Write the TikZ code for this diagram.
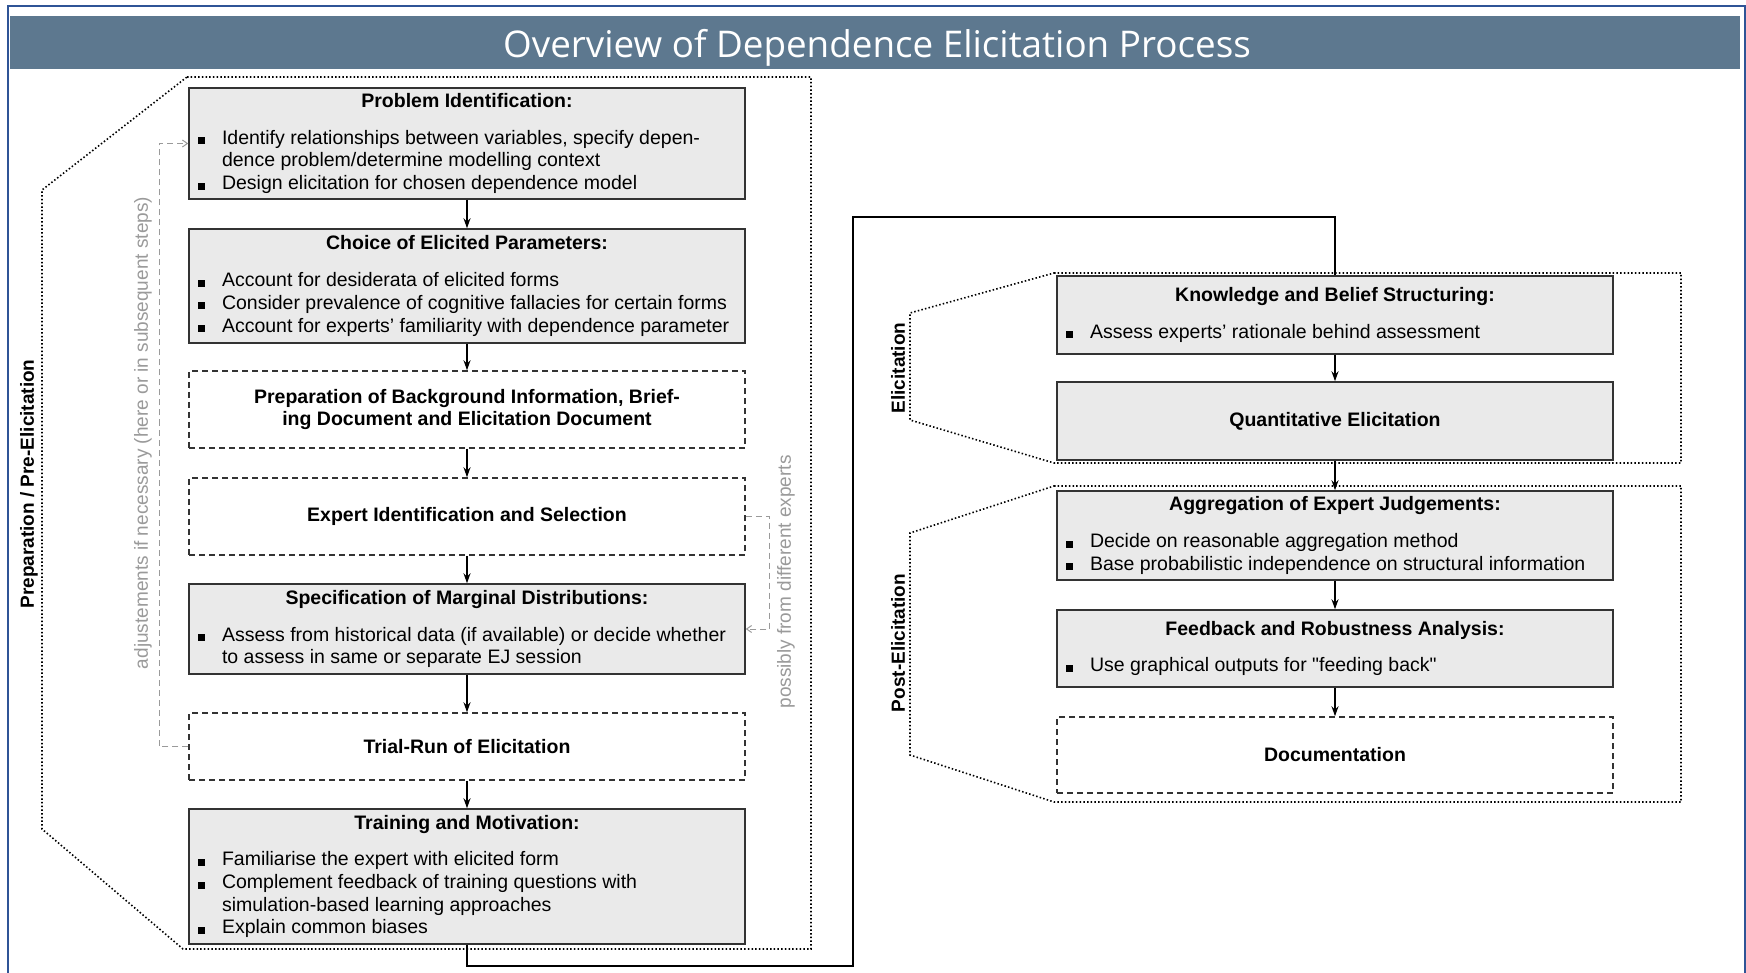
\documentclass[tikz,border=0pt]{standalone}
\usepackage{fontspec}
\setmainfont{Liberation Sans}
\newfontfamily\titlefont{Open Sans}
\usetikzlibrary{arrows.meta}
\definecolor{titlebar}{HTML}{5D788F}
\definecolor{framecol}{HTML}{2F5496}
\definecolor{boxfill}{HTML}{EAEAEA}
\definecolor{notegray}{HTML}{9A9A9A}
% one bullet line with hanging indent
\newcommand{\itm}[1]{\par\noindent\hangindent=24pt\hangafter=1\makebox[24pt][l]{\rule{7pt}{7pt}}#1\par}
\newcommand{\boxtext}[2]{\parbox{538pt}{\centering\textbf{#1}\par\vspace{14pt}\raggedright#2}}
\tikzset{
  procbox/.style={draw=black!80, fill=boxfill, line width=1.5, minimum width=556,
    inner xsep=9, inner ysep=0, align=center, font=\fontsize{19.5}{22.7}\selectfont},
  optbox/.style={procbox, fill=white, dash pattern=on 6pt off 4pt},
  flow/.style={-{Stealth[length=10pt,width=7pt]}, line width=1.5},
  link/.style={line width=2.5, line join=miter},
  back/.style={notegray, line width=1, dash pattern=on 6pt off 4pt, -{Straight Barb[length=5pt,width=7pt]}},
  region/.style={line width=1.6, dash pattern=on 1.5pt off 2.2pt},
  phase/.style={rotate=90, font=\bfseries\fontsize{19}{22}\selectfont},
  note/.style={rotate=90, text=notegray, font=\fontsize{19}{22}\selectfont}
}
\begin{document}
\begin{tikzpicture}[x=1pt,y=-1pt]
  \useasboundingbox (0,0) rectangle (1746,973);
  \fill[white] (0,0) rectangle (1746,973);
  \draw[framecol, line width=2.5] (8,973) -- (8,6) -- (1745,6) -- (1745,973);
  \fill[titlebar] (10,16) rectangle (1740,69);
  \node[anchor=base, text=white, font=\titlefont\fontsize{36.8}{42}\selectfont] (title) at (877,58) {Overview of Dependence Elicitation Process};

  % phases
  \draw[region] (187,77) -- (811,77) -- (811,949) -- (183,949) -- (42,829) -- (42,190) -- cycle;
  \draw[region] (1054,273) -- (1681,273) -- (1681,463) -- (1054,463) -- (910,420) -- (910,313) -- cycle;
  \draw[region] (1054,486) -- (1681,486) -- (1681,802) -- (1054,802) -- (910,755) -- (910,533) -- cycle;
  \node[phase] (prep) at (29,484) {Preparation / Pre-Elicitation};
  \node[phase] (elic) at (898,368) {Elicitation};
  \node[phase] (post) at (898,643) {Post-Elicitation};

  % left column
  \node[procbox, minimum height=111] (pid) at (467,143.5) {\boxtext{Problem Identification:}{%
    \itm{Identify relationships between variables, specify depen-\newline dence problem/determine modelling context}%
    \itm{Design elicitation for chosen dependence model}}};
  \node[procbox, minimum height=114] (cep) at (467,286) {\boxtext{Choice of Elicited Parameters:}{%
    \itm{Account for desiderata of elicited forms}%
    \itm{Consider prevalence of cognitive fallacies for certain forms}%
    \itm{Account for experts' familiarity with dependence parameter}}};
  \node[optbox, minimum height=77] (pbi) at (467,409.5) {\textbf{Preparation of Background Information, Brief-}\\\textbf{ing Document and Elicitation Document}};
  \node[optbox, minimum height=77] (eis) at (467,516.5) {\textbf{Expert Identification and Selection}};
  \node[procbox, minimum height=90] (smd) at (467,629) {\boxtext{Specification of Marginal Distributions:}{%
    \itm{Assess from historical data (if available) or decide whether\newline to assess in same or separate EJ session}}};
  \node[optbox, minimum height=67] (trl) at (467,746.5) {\textbf{Trial-Run of Elicitation}};
  \node[procbox, minimum height=135] (trm) at (467,876.5) {\boxtext{Training and Motivation:}{%
    \itm{Familiarise the expert with elicited form}%
    \itm{Complement feedback of training questions with\newline simulation-based learning approaches}%
    \itm{Explain common biases}}};

  % right column
  \node[procbox, minimum height=78] (kbs) at (1335,315) {\boxtext{Knowledge and Belief Structuring:}{%
    \itm{Assess experts' rationale behind assessment}}};
  \node[procbox, minimum height=78] (qel) at (1335,421) {\textbf{Quantitative Elicitation}};
  \node[procbox, minimum height=89] (agg) at (1335,535.5) {\boxtext{Aggregation of Expert Judgements:}{%
    \itm{Decide on reasonable aggregation method}%
    \itm{Base probabilistic independence on structural information}}};
  \node[procbox, minimum height=77] (fra) at (1335,648.5) {\boxtext{Feedback and Robustness Analysis:}{%
    \itm{Use graphical outputs for \textquotedbl feeding back\textquotedbl}}};
  \node[optbox, minimum height=76] (doc) at (1335,755) {\textbf{Documentation}};

  \foreach \a/\b in {pid/cep, cep/pbi, pbi/eis, eis/smd, smd/trl, trl/trm, kbs/qel, qel/agg, agg/fra, fra/doc}
    \draw[flow] (\a.south) -- (\b.north);

  \draw[link] (trm.south) -- ++(0,21) -| (853,217) -| (kbs.north);

  % loops back
  \draw[back] (trl.west) -- ++(-29,0) |- (pid.west);
  \draw[back] (eis.east) -- ++(24,0) |- (smd.east);
  \node[note] (adj) at (143,433) {adjustements if necessary (here or in subsequent steps)};
  \node[note] (diff) at (786,582) {possibly from different experts};
\end{tikzpicture}
\end{document}
